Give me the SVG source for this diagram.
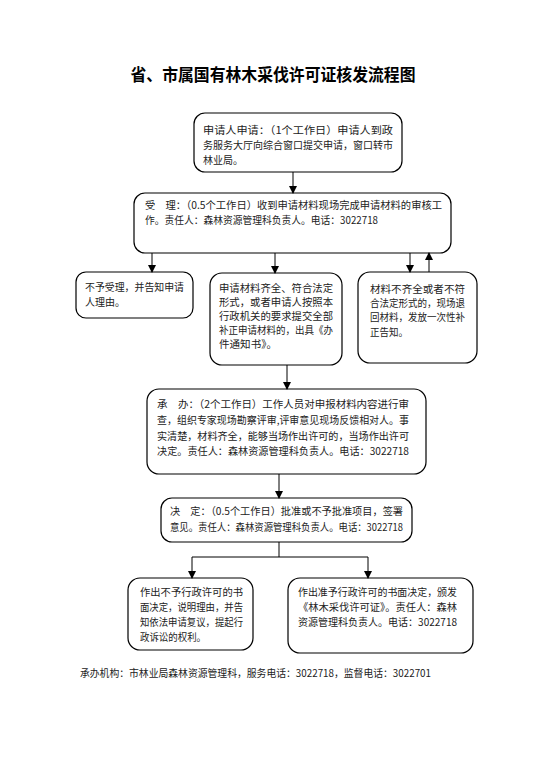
<svg xmlns="http://www.w3.org/2000/svg" width="551" height="784" viewBox="0 0 551 784">
<defs>
<marker id="ah" markerWidth="8" markerHeight="8" refX="7" refY="4" orient="auto" markerUnits="userSpaceOnUse">
<path d="M0,0 L8,4 L0,8 Z" fill="#000"/>
</marker>
<style>
.box{fill:#fff;stroke:#000;stroke-width:1.2}
.t{font-family:"Noto Sans CJK SC","Liberation Sans",sans-serif;font-size:10.5px;fill:#222}
.title{font-family:"Noto Sans CJK SC","Liberation Sans",sans-serif;font-size:17px;font-weight:bold;fill:#000}
.c{stroke:#000;stroke-width:1;fill:none}
.ca{stroke:#000;stroke-width:1;fill:none;marker-end:url(#ah)}
</style>
</defs>
<rect width="551" height="784" fill="#fff"/>
<text class="title" x="273" y="81" text-anchor="middle" textLength="285" lengthAdjust="spacingAndGlyphs">省、市属国有林木采伐许可证核发流程图</text>

<g id="n1">
<rect class="box" x="194" y="113" width="208" height="59" rx="11"/>
<text class="t" x="203" y="134" textLength="190" lengthAdjust="spacingAndGlyphs">申请人申请：（1个工作日）申请人到政</text>
<text class="t" x="203" y="149" textLength="190" lengthAdjust="spacingAndGlyphs">务服务大厅向综合窗口提交申请，窗口转市</text>
<text class="t" x="203" y="164" textLength="40" lengthAdjust="spacingAndGlyphs">林业局。</text>
</g>

<g id="n2">
<rect class="box" x="134" y="193" width="317" height="60" rx="11"/>
<text class="t" x="145" y="209" textLength="297" lengthAdjust="spacingAndGlyphs">受　理：（0.5个工作日）收到申请材料现场完成申请材料的审核工</text>
<text class="t" x="145" y="224" textLength="233" lengthAdjust="spacingAndGlyphs">作。责任人：森林资源管理科负责人。电话：3022718</text>
</g>

<g id="n3">
<rect class="box" x="76" y="272" width="117" height="46" rx="10"/>
<text class="t" x="85" y="291" textLength="99" lengthAdjust="spacingAndGlyphs">不予受理，并告知申请</text>
<text class="t" x="85" y="306" textLength="40" lengthAdjust="spacingAndGlyphs">人理由。</text>
</g>

<g id="n4">
<rect class="box" x="210" y="273" width="132" height="92" rx="12"/>
<text class="t" x="219" y="292" textLength="114" lengthAdjust="spacingAndGlyphs">申请材料齐全、符合法定</text>
<text class="t" x="219" y="306" textLength="114" lengthAdjust="spacingAndGlyphs">形式，或者申请人按照本</text>
<text class="t" x="219" y="320" textLength="114" lengthAdjust="spacingAndGlyphs">行政机关的要求提交全部</text>
<text class="t" x="219" y="334" textLength="114" lengthAdjust="spacingAndGlyphs">补正申请材料的，出具《办</text>
<text class="t" x="219" y="348" textLength="58" lengthAdjust="spacingAndGlyphs">件通知书》。</text>
</g>

<g id="n5">
<rect class="box" x="358" y="272" width="119" height="91" rx="12"/>
<text class="t" x="370" y="293" textLength="95" lengthAdjust="spacingAndGlyphs">材料不齐全或者不符</text>
<text class="t" x="370" y="307" textLength="95" lengthAdjust="spacingAndGlyphs">合法定形式的，现场退</text>
<text class="t" x="370" y="321" textLength="95" lengthAdjust="spacingAndGlyphs">回材料，发放一次性补</text>
<text class="t" x="370" y="336" textLength="38" lengthAdjust="spacingAndGlyphs">正告知。</text>
</g>

<g id="n6">
<rect class="box" x="147" y="389" width="279" height="85" rx="12"/>
<text class="t" x="157" y="408" textLength="252" lengthAdjust="spacingAndGlyphs">承　办：（2个工作日）工作人员对申报材料内容进行审</text>
<text class="t" x="157" y="424" textLength="252" lengthAdjust="spacingAndGlyphs">查，组织专家现场勘察评审,评审意见现场反馈相对人。事</text>
<text class="t" x="157" y="440" textLength="252" lengthAdjust="spacingAndGlyphs">实清楚，材料齐全，能够当场作出许可的，当场作出许可</text>
<text class="t" x="157" y="455" textLength="252" lengthAdjust="spacingAndGlyphs">决定。责任人：森林资源管理科负责人。电话：3022718</text>
</g>

<g id="n7">
<rect class="box" x="161" y="498" width="251" height="44" rx="11"/>
<text class="t" x="170" y="515" textLength="233" lengthAdjust="spacingAndGlyphs">决　定：（0.5个工作日）批准或不予批准项目，签署</text>
<text class="t" x="170" y="531" textLength="233" lengthAdjust="spacingAndGlyphs">意见。责任人：森林资源管理科负责人。电话：3022718</text>
</g>

<g id="n8">
<rect class="box" x="128" y="578" width="125" height="72" rx="12"/>
<text class="t" x="140" y="596" textLength="103" lengthAdjust="spacingAndGlyphs">作出不予行政许可的书</text>
<text class="t" x="140" y="611" textLength="103" lengthAdjust="spacingAndGlyphs">面决定，说明理由，并告</text>
<text class="t" x="140" y="626" textLength="103" lengthAdjust="spacingAndGlyphs">知依法申请复议，提起行</text>
<text class="t" x="140" y="641" textLength="66" lengthAdjust="spacingAndGlyphs">政诉讼的权利。</text>
</g>

<g id="n9">
<rect class="box" x="288" y="578" width="185" height="75" rx="12"/>
<text class="t" x="298" y="596" textLength="159" lengthAdjust="spacingAndGlyphs">作出准予行政许可的书面决定，颁发</text>
<text class="t" x="298" y="611" textLength="159" lengthAdjust="spacingAndGlyphs">《林木采伐许可证》。责任人：森林</text>
<text class="t" x="298" y="626" textLength="159" lengthAdjust="spacingAndGlyphs">资源管理科负责人。电话：3022718</text>
</g>

<g id="connectors">
<line class="ca" x1="293" y1="172" x2="293" y2="193"/>
<line class="ca" x1="152" y1="253" x2="152" y2="272"/>
<line class="ca" x1="275" y1="253" x2="275" y2="273"/>
<line class="ca" x1="410" y1="253" x2="410" y2="272"/>
<line class="ca" x1="429" y1="272" x2="429" y2="253"/>
<line class="ca" x1="287" y1="365" x2="287" y2="389"/>
<line class="ca" x1="279" y1="474" x2="279" y2="498"/>
<polyline class="c" points="279,542 279,557 192,557"/>
<line class="c" x1="279" y1="557" x2="368" y2="557"/>
<line class="ca" x1="192" y1="557" x2="192" y2="578"/>
<line class="ca" x1="368" y1="557" x2="368" y2="578"/>
</g>

<text class="t" x="80" y="677" textLength="351" lengthAdjust="spacingAndGlyphs">承办机构：市林业局森林资源管理科，服务电话：3022718，监督电话：3022701</text>
</svg>
